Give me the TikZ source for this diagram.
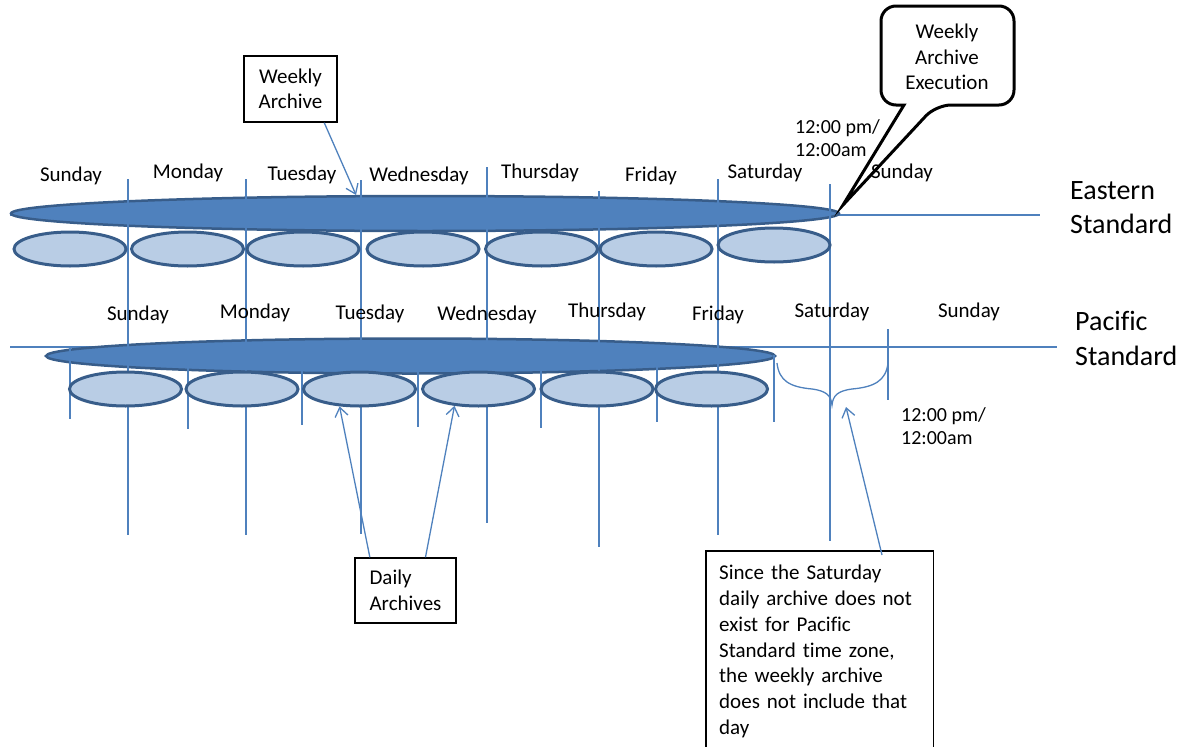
\documentclass[tikz,border=0pt]{standalone}
\usepackage{fontspec}
\setmainfont{Carlito}[Ligatures=NoCommon]
\usetikzlibrary{calc,arrows.meta,shapes.geometric}

\definecolor{archblue}{RGB}{79,129,189}
\definecolor{archedge}{RGB}{56,93,138}
\definecolor{archlight}{RGB}{185,205,229}

\tikzset{
  tline/.style={draw=archblue, line width=1.5pt},
  bigarch/.style={ellipse, fill=archblue, draw=archedge, line width=2.5pt, inner sep=0pt, minimum height=35pt},
  dayarch/.style={ellipse, fill=archlight, draw=archedge, line width=3pt, inner sep=0pt, minimum width=112pt, minimum height=34pt},
  daylbl/.style={font=\fontsize{21}{25}\selectfont, inner sep=0pt},
  zonelbl/.style={font=\fontsize{28}{34}\selectfont, inner sep=0pt, anchor=west, align=left},
  timelbl/.style={font=\fontsize{20}{23}\selectfont, inner sep=0pt, anchor=west, align=left},
  infobox/.style={draw=black, line width=1.5pt, font=\fontsize{21}{25.5}\selectfont},
  ptr/.style={draw=archblue, line width=1.3pt, -{Straight Barb[length=9pt,width=13pt]}},
}

\begin{document}
\begin{tikzpicture}[x=1pt,y=-1pt]
  \clip (0,0) rectangle (1184,747);

  % time axes of the two zones
  \draw[tline] (10,215) -- (1040,215);
  \draw[tline] (10,347) -- (1057,347);

  % weekly archives (drawn under the day lines)
  \node[bigarch, minimum width=828pt] (ebig) at (425,213.5) {};
  \node[bigarch, minimum width=729pt] (pbig) at (410.5,356) {};

  % day boundaries, Eastern (long) and Pacific (short)
  \foreach \x/\ya/\yb in {128/179/535, 246/179/535, 361/180/534, 487/167/523,
                          599/191/547, 718/179/535, 830/184/541} {
    \draw[tline] (\x,\ya) -- (\x,\yb);
  }
  \foreach \x/\ya/\yb in {70/348/419, 188/358/429, 302/353/425, 418/357/427,
                          541/347/428, 657/350/422, 774/355/422, 888/329/400} {
    \draw[tline] (\x,\ya) -- (\x,\yb);
  }

  % daily archives
  \foreach \cx/\cy/\nm in {70/249/esun, 187.5/249/emon, 303/249/etue, 423/249/ewed,
                           541.5/249/ethu, 656/249/efri, 774/245/esat} {
    \node[dayarch] (\nm) at (\cx,\cy) {};
  }
  \foreach \cx/\nm in {125.5/psun, 242/pmon, 359.5/ptue, 478.5/pwed, 597/pthu, 711.5/pfri} {
    \node[dayarch] (\nm) at (\cx,389) {};
  }

  % day names
  \foreach \cx/\cy/\d [count=\i] in {71/176/Sunday, 188/173/Monday, 302/175/Tuesday,
      419/176/Wednesday, 540/173/Thursday, 651/176/Friday, 765/173/Saturday, 902/173/Sunday} {
    \node[daylbl] (eday\i) at (\cx,\cy) {\d};
  }
  \foreach \cx/\cy/\d [count=\i] in {138/315/Sunday, 255/313/Monday, 370/314/Tuesday,
      487/315/Wednesday, 607/312/Thursday, 718/315/Friday, 832/312/Saturday, 969/312/Sunday} {
    \node[daylbl] (pday\i) at (\cx,\cy) {\d};
  }

  % zone names and midnight marks
  \node[zonelbl] (east) at (1070,207.5) {Eastern\\Standard};
  \node[zonelbl, font=\fontsize{28}{35}\selectfont] (pacific) at (1075,338) {Pacific\\Standard};
  \node[timelbl] (etime) at (795,138.5) {12:00 pm/\\12:00am};
  \node[timelbl] (ptime) at (901,426) {12:00 pm/\\12:00am};

  % callout for the weekly run
  \node[font=\fontsize{21}{25.7}\selectfont, align=center] (exec) at (947,57)
    {Weekly\\Archive\\Execution};
  \draw[line width=3pt] (843,205) -- (904,105) [rounded corners=15pt] -- (881,105)
    -- (881,6) -- (1014,6) -- (1014,105) -- (936,105) [sharp corners] -- cycle;

  % missing Saturday on the Pacific side
  \draw[draw=archblue, line width=1.3pt] (777,363) .. controls (779,381) and (790,387) .. (812,389)
    .. controls (827,391) and (831,396) .. (832,405)
    .. controls (833,396) and (837,391) .. (852,389)
    .. controls (874,387) and (886,381) .. (888,363);
  \coordinate (bracetip) at (846,407);

  % text boxes
  \node[infobox, minimum width=93pt, minimum height=66pt, align=center] (wkbox) at (290.5,89)
    {Weekly\\Archive};
  \node[infobox, minimum width=101pt, minimum height=65pt, align=left] (dlybox) at (405.5,590.5)
    {Daily\\Archives};
  \node[font=\fontsize{21}{25.8}\selectfont, anchor=north west, inner xsep=13pt, inner ysep=14pt,
        text width=201pt, align=left] (note) at (706,551)
    {Since the Saturday\\daily archive does not\\exist for Pacific\\Standard time zone,\\the weekly archive\\does not include that\\day};
  \draw[line width=1.5pt] ($(note.south west)+(0,20)$) -- (note.north west) -- (note.north east)
    -- ($(note.south east)+(0,20)$);

  % pointers
  \draw[ptr] (wkbox.-45) -- (ebig.165.1);
  \draw[ptr] (dlybox.137) -- (ptue.-139);
  \draw[ptr] (dlybox.59) -- (pwed.-145.3);
  \draw[ptr] ($(note.north west)+(176,4)$) -- (bracetip);
\end{tikzpicture}
\end{document}
